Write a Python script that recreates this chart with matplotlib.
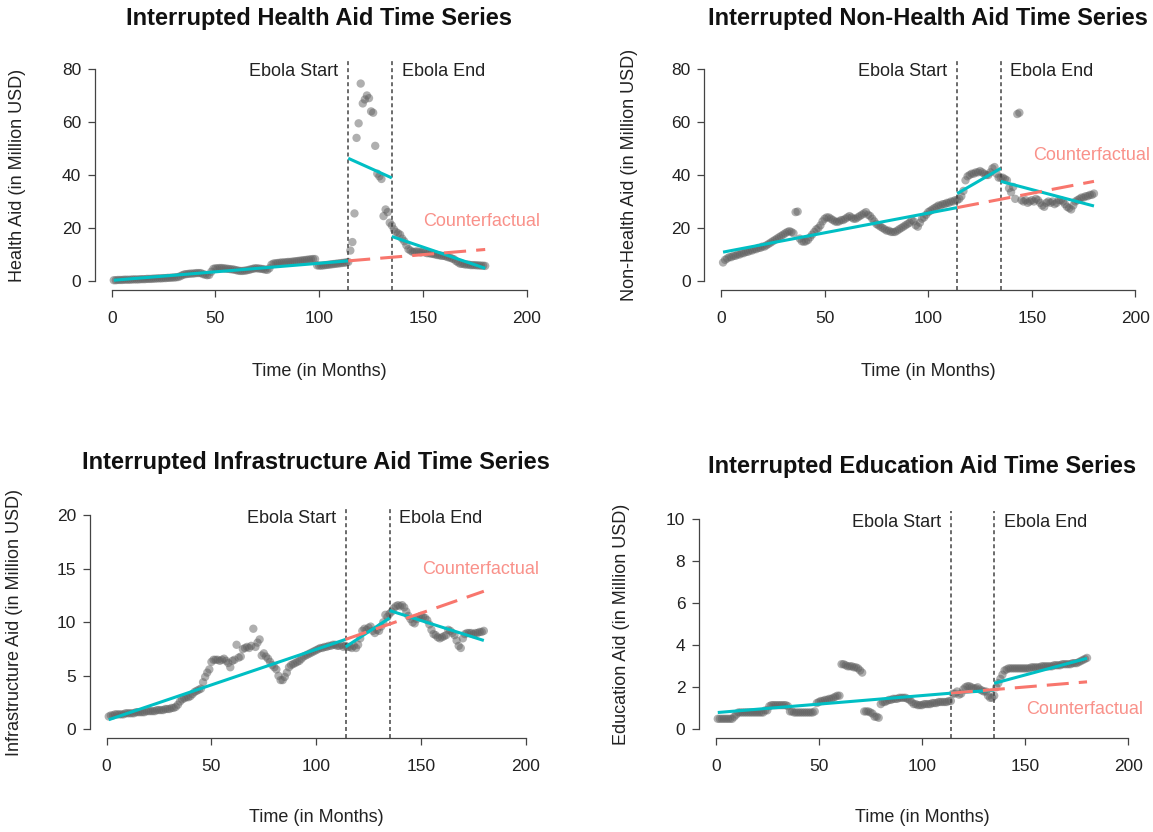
import numpy as np
import matplotlib
matplotlib.use("Agg")
import matplotlib.pyplot as plt

plt.rcParams['font.family'] = ['Liberation Sans', 'DejaVu Sans']

# ---------------- data ----------------
months = list(range(1, 181))
ebola_start = 114
ebola_end = 135
xticks = [0, 50, 100, 150, 200]

health = [
    0.3, 0.3, 0.4, 0.4, 0.4, 0.5, 0.5, 0.5, 0.5, 0.6,
    0.6, 0.6, 0.6, 0.7, 0.7, 0.7, 0.8, 0.8, 0.8, 0.9,
    0.9, 1.0, 1.0, 1.0, 1.1, 1.1, 1.2, 1.2, 1.3, 1.3,
    1.4, 1.5, 1.8, 2.2, 2.5, 2.6, 2.7, 2.8, 2.8, 2.9,
    3.0, 3.0, 3.0, 2.6, 2.4, 2.2, 2.3, 3.5, 4.6, 4.8,
    4.8, 4.9, 4.9, 4.8, 4.7, 4.6, 4.5, 4.4, 4.3, 4.1,
    3.9, 3.8, 3.8, 3.9, 4.0, 4.2, 4.4, 4.6, 4.8, 4.8,
    4.7, 4.6, 4.5, 4.3, 4.2, 4.8, 6.2, 6.6, 6.7, 6.8,
    6.9, 7.0, 7.0, 7.1, 7.2, 7.2, 7.3, 7.4, 7.5, 7.6,
    7.7, 7.8, 7.9, 8.0, 8.1, 8.2, 8.3, 8.3, 5.9, 5.8,
    5.8, 5.9, 6.0, 6.1, 6.2, 6.3, 6.4, 6.5, 6.6, 6.7,
    6.8, 6.9, 7.0, 7.2,
    11.5, 14.7, 25.5, 54.0, 59.5, 74.5, 67.0, 68.5, 70.0, 69.0,
    64.0, 63.5, 51.0, 40.5, 39.5, 38.5, 24.5, 27.0, 26.0, 22.0,
    21.0,
    19.5, 18.5, 18.0, 17.5, 16.0, 15.0, 13.5, 12.0, 11.5, 11.0,
    11.0, 11.2, 11.0, 10.8, 11.0, 10.8, 10.5, 10.5, 10.3, 10.2,
    10.0, 9.8, 9.7, 9.5, 9.5, 9.3, 9.0, 8.8, 8.5, 8.2,
    7.5, 7.0, 6.5, 6.5, 6.3, 6.2, 6.2, 6.0, 6.0, 6.0,
    5.9, 5.9, 5.8, 5.8, 5.7,
]

non_health = [
    7.0, 8.0, 8.5, 9.0, 9.0, 9.5, 9.5, 10.0, 10.0, 10.5,
    10.5, 11.0, 11.0, 11.5, 11.5, 12.0, 12.0, 12.5, 12.5, 13.0,
    13.0, 13.5, 14.0, 14.5, 15.0, 15.5, 16.0, 16.5, 17.0, 17.5,
    18.0, 18.5, 18.8, 18.5, 18.0, 26.0, 26.2, 16.0, 15.0, 14.8,
    15.0, 15.5, 16.5, 17.5, 18.5, 19.5, 20.0, 21.0, 22.5, 23.5,
    24.0, 24.0, 23.5, 23.0, 22.5, 22.3, 22.5, 23.0, 23.0, 23.5,
    24.0, 24.5, 24.0, 23.5, 23.5, 24.0, 24.5, 25.0, 25.5, 26.0,
    25.0, 24.5, 23.5, 22.5, 21.5, 21.0, 20.5, 20.0, 19.5, 19.0,
    19.0, 18.5, 18.5, 18.5, 19.0, 19.5, 20.0, 20.5, 21.0, 21.5,
    22.0, 23.0, 22.5, 21.0, 20.5, 22.0, 23.5, 24.0, 25.0, 26.0,
    26.5, 27.0, 27.5, 28.0, 28.5, 28.5, 29.0, 29.0, 29.5, 29.5,
    30.0, 30.0, 30.5, 30.5,
    31.0, 32.0, 34.0, 38.0, 39.5, 40.0, 40.5, 40.5, 41.0, 41.0,
    41.5, 41.0, 40.5, 40.0, 40.0, 41.0, 42.5, 43.0, 40.5, 39.0,
    39.0,
    39.0, 38.5, 38.0, 35.0, 33.5, 35.5, 31.0, 63.0, 63.5, 30.5,
    30.0, 30.5, 29.5, 30.0, 30.5, 30.0, 31.0, 30.5, 29.5, 28.5,
    28.0, 29.5, 30.0, 29.5, 30.0, 29.0, 29.5, 30.5, 30.5, 30.0,
    29.0, 28.0, 27.5, 27.0, 28.5, 30.0, 30.5, 31.0, 31.5, 31.5,
    32.0, 32.0, 32.5, 32.5, 33.0,
]

infrastructure = [
    1.2, 1.3, 1.3, 1.4, 1.4, 1.4, 1.4, 1.4, 1.5, 1.5,
    1.5, 1.5, 1.5, 1.6, 1.6, 1.6, 1.6, 1.6, 1.7, 1.7,
    1.7, 1.7, 1.7, 1.8, 1.8, 1.8, 1.8, 1.9, 1.9, 1.9,
    2.0, 2.0, 2.1, 2.3, 2.6, 2.8, 2.9, 3.0, 3.0, 3.1,
    3.3, 3.5, 3.6, 3.7, 3.8, 4.4, 4.9, 5.3, 5.6, 6.3,
    6.5, 6.5, 6.5, 6.4, 6.5, 6.6, 6.4, 6.2, 5.8, 6.4,
    6.5, 7.9, 6.7, 6.8, 7.5, 7.6, 7.7, 7.6, 7.8, 9.4,
    7.7, 8.1, 8.4, 6.9, 7.1, 6.8, 6.6, 6.3, 6.0, 5.8,
    5.6, 5.0, 4.6, 4.6, 4.9, 5.3, 5.8, 6.0, 6.1, 6.2,
    6.3, 6.4, 6.6, 6.8, 6.9, 7.0, 7.1, 7.2, 7.3, 7.4,
    7.5, 7.6, 7.6, 7.7, 7.7, 7.8, 7.8, 7.9, 7.9, 7.8,
    7.8, 7.9, 7.7, 7.8,
    7.7, 7.7, 7.6, 7.8, 7.6, 7.9, 8.5, 9.2, 9.4, 9.3,
    9.5, 9.6, 9.2, 9.0, 9.3, 9.2, 9.6, 10.0, 10.7, 10.5,
    10.8,
    11.0, 11.3, 11.5, 11.6, 11.5, 11.6, 11.4, 11.0, 10.6, 10.3,
    10.0, 9.9, 10.3, 10.5, 10.6, 10.5, 10.4, 10.2, 9.8, 9.3,
    8.9, 8.8, 8.6, 8.5, 8.6, 8.7, 8.8, 9.3, 9.2, 9.0,
    8.8, 8.3, 7.8, 7.6, 8.5, 8.9, 9.0, 9.0, 9.0, 8.9,
    9.0, 9.0, 9.1, 9.1, 9.2,
]

education = [
    0.5, 0.5, 0.5, 0.5, 0.5, 0.5, 0.5, 0.5, 0.6, 0.7,
    0.8, 0.8, 0.8, 0.8, 0.8, 0.8, 0.8, 0.8, 0.8, 0.8,
    0.8, 0.8, 0.8, 0.9, 0.9, 1.1, 1.15, 1.15, 1.15, 1.15,
    1.15, 1.15, 1.15, 1.15, 1.1, 0.85, 0.85, 0.8, 0.8, 0.8,
    0.8, 0.8, 0.8, 0.8, 0.8, 0.8, 0.8, 0.85, 1.25, 1.3,
    1.35, 1.35, 1.4, 1.4, 1.45, 1.45, 1.5, 1.55, 1.6, 1.6,
    3.1, 3.1, 3.05, 3.0, 3.0, 3.0, 2.95, 2.95, 2.9, 2.8,
    2.7, 0.85, 0.85, 0.85, 0.8, 0.75, 0.6, 0.6, 0.55, 1.2,
    1.3, 1.3, 1.35, 1.4, 1.4, 1.45, 1.45, 1.45, 1.5, 1.5,
    1.5, 1.5, 1.45, 1.4, 1.3, 1.2, 1.2, 1.15, 1.15, 1.15,
    1.2, 1.2, 1.2, 1.2, 1.25, 1.25, 1.25, 1.3, 1.3, 1.3,
    1.3, 1.3, 1.35, 1.35,
    1.7, 1.7, 1.8, 1.65, 1.7, 1.9, 2.0, 2.05, 2.05, 2.0,
    1.95, 1.95, 2.0, 1.9, 1.85, 1.8, 1.8, 1.6, 1.5, 1.5,
    1.6,
    2.0, 2.2, 2.4, 2.6, 2.8, 2.85, 2.9, 2.9, 2.9, 2.9,
    2.9, 2.9, 2.9, 2.9, 2.9, 2.9, 2.9, 2.95, 2.95, 2.95,
    2.95, 2.95, 3.0, 3.0, 3.0, 3.0, 3.0, 3.0, 3.05, 3.05,
    3.05, 3.05, 3.1, 3.1, 3.1, 3.1, 3.1, 3.15, 3.15, 3.15,
    3.2, 3.25, 3.3, 3.35, 3.4,
]

# fitted segmented-regression lines: values at segment start / end
health_fit_pre = [0.3, 7.6]
health_fit_during = [46.3, 38.9]
health_fit_post = [16.8, 4.8]
health_counterfactual = [7.6, 11.9]

non_health_fit_pre = [10.9, 27.7]
non_health_fit_during = [33.0, 42.5]
non_health_fit_post = [37.6, 28.3]
non_health_counterfactual = [27.7, 37.6]

infra_fit_pre = [0.9, 8.4]
infra_fit_during = [7.7, 10.4]
infra_fit_post = [11.1, 8.3]
infra_counterfactual = [8.4, 12.9]

edu_fit_pre = [0.8, 1.72]
edu_fit_during = [1.72, 1.86]
edu_fit_post = [2.19, 3.38]
edu_counterfactual = [1.72, 2.26]

pre_x = [1, 114]
during_x = [114, 135]
post_x = [135, 180]
cf_x = [114, 180]

W, H = 1153, 832
fig = plt.figure(figsize=(W / 100, H / 100), dpi=100)

TEAL = '#00BFC4'
SALMON = '#F8766D'
TXT = 13

panels = [
    dict(rect=(95.1, 543.3, 60.5, 289.5), values=health, ymax=80, yticks=[0, 20, 40, 60, 80],
         fits=(health_fit_pre, health_fit_during, health_fit_post, health_counterfactual),
         title='Interrupted Health Aid Time Series', title_y=18,
         ylabel='Health Aid (in Million USD)', ylab_x=18, xlab_y=372, cf_pos=(178.5, 22.3)),
    dict(rect=(704.4, 1152.0, 60.5, 289.5), values=non_health, ymax=80, yticks=[0, 20, 40, 60, 80],
         fits=(non_health_fit_pre, non_health_fit_during, non_health_fit_post, non_health_counterfactual),
         title='Interrupted Non-Health Aid Time Series', title_y=18,
         ylabel='Non-Health Aid (in Million USD)', ylab_x=630, xlab_y=372, cf_pos=(179, 47.5)),
    dict(rect=(89.9, 542.5, 506.7, 737.9), values=infrastructure, ymax=20, yticks=[0, 5, 10, 15, 20],
         fits=(infra_fit_pre, infra_fit_during, infra_fit_post, infra_counterfactual),
         title='Interrupted Infrastructure Aid Time Series', title_y=463,
         ylabel='Infrastructure Aid (in Million USD)', ylab_x=15, xlab_y=818, cf_pos=(178.6, 14.95)),
    dict(rect=(699.2, 1144.8, 510.9, 737.7), values=education, ymax=10, yticks=[0, 2, 4, 6, 8, 10],
         fits=(edu_fit_pre, edu_fit_during, edu_fit_post, edu_counterfactual),
         title='Interrupted Education Aid Time Series', title_y=466,
         ylabel='Education Aid (in Million USD)', ylab_x=622, xlab_y=818, cf_pos=(178.6, 0.92)),
]

for p in panels:
    l, r, t, b = p['rect']
    ax = fig.add_axes([l / W, 1 - b / H, (r - l) / W, (b - t) / H])
    ymax = p['ymax']
    ax.set_xlim(-8, 208)
    ax.set_ylim(-0.04 * ymax, 1.04 * ymax)
    for s in ('top', 'right'):
        ax.spines[s].set_visible(False)
    ax.spines['left'].set_bounds(0, ymax)
    ax.spines['bottom'].set_bounds(0, 200)
    for s in ('left', 'bottom'):
        ax.spines[s].set_color('#444444')
        ax.spines[s].set_linewidth(0.9)
    ax.set_xticks(xticks)
    ax.set_yticks(p['yticks'])
    ax.tick_params(axis='both', direction='out', length=5, width=0.9, color='#444444',
                   labelsize=TXT - 0.5, labelcolor='#222222')
    ax.tick_params(axis='x', pad=10.5)
    ax.tick_params(axis='y', pad=5)

    ax.scatter(months, p['values'], s=36, color='#606060', alpha=0.5, edgecolors='none', zorder=2)

    for xv in (ebola_start, ebola_end):
        ax.axvline(xv, color='#444444', lw=1.1, ls=(0, (2.6, 2.0)), zorder=3)

    fpre, fdur, fpost, fcf = p['fits']
    ax.plot(pre_x, fpre, color=TEAL, lw=2.2, solid_capstyle='butt', zorder=4)
    ax.plot(during_x, fdur, color=TEAL, lw=2.2, solid_capstyle='butt', zorder=4)
    ax.plot(post_x, fpost, color=TEAL, lw=2.2, solid_capstyle='butt', zorder=4)
    ax.plot(cf_x, fcf, color=SALMON, lw=2.2, ls=(0, (7.2, 3.3)), dash_capstyle='butt', zorder=5)

    ax.annotate('Ebola Start', xy=(ebola_start, ymax), xytext=(-7, -2), textcoords='offset points',
                ha='right', va='center', fontsize=TXT, color='#222222')
    ax.annotate('Ebola End', xy=(ebola_end, ymax), xytext=(7, -2), textcoords='offset points',
                ha='left', va='center', fontsize=TXT, color='#222222')
    ax.text(p['cf_pos'][0], p['cf_pos'][1], 'Counterfactual', ha='center', va='center',
            fontsize=TXT, color=SALMON, alpha=0.8)

    xc = (l + r) / 2
    fig.text(xc / W, 1 - p['title_y'] / H, p['title'], ha='center', va='center',
             fontsize=17, fontweight='bold', color='#111111')
    fig.text(xc / W, 1 - p['xlab_y'] / H, 'Time (in Months)', ha='center', va='center',
             fontsize=TXT, color='#222222')
    fig.text(p['ylab_x'] / W, 1 - ((t + b) / 2) / H, p['ylabel'], ha='center', va='center',
             rotation=90, fontsize=TXT, color='#222222')

fig.savefig('out.png', dpi=100)
